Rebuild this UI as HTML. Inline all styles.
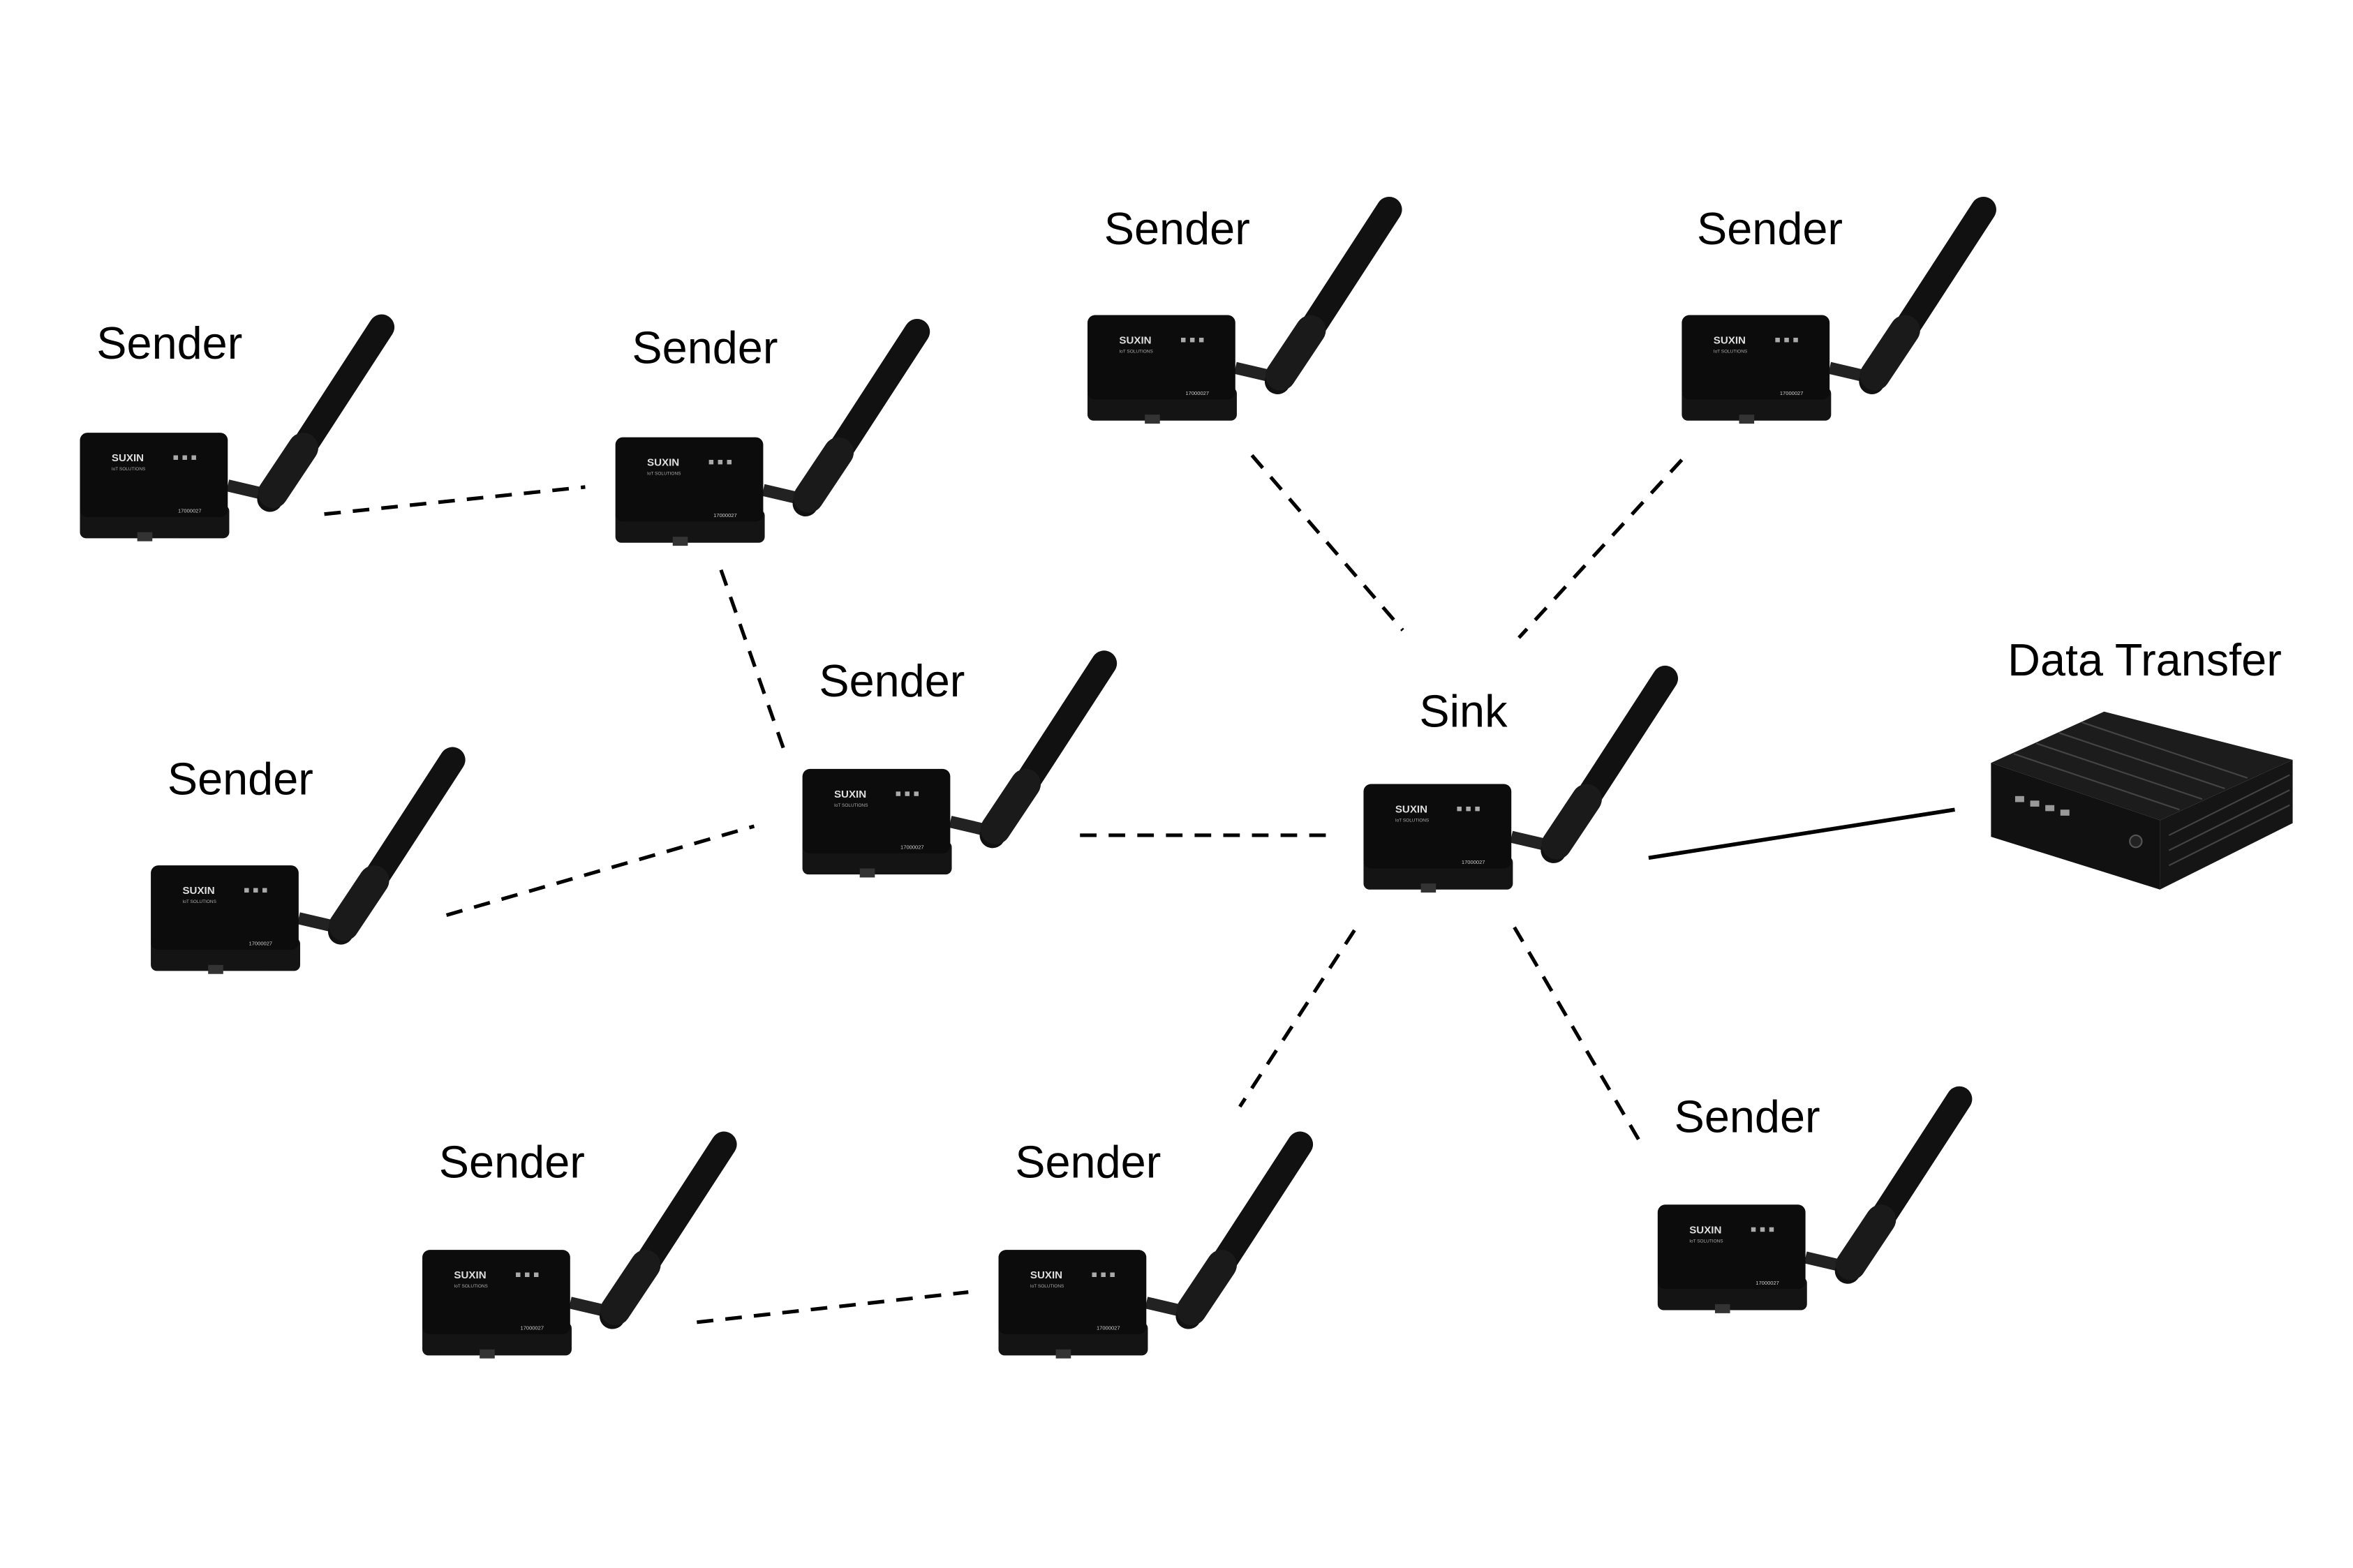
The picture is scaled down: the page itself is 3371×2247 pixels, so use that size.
<!DOCTYPE html>
<html><head><meta charset="utf-8"><style>
html,body{margin:0;padding:0;background:#fff;}
svg{display:block}
text{font-family:"Liberation Sans","DejaVu Sans",sans-serif;fill:#000}
</style></head><body>
<svg width="3371" height="2247" viewBox="0 0 1560 1040" preserveAspectRatio="none" xmlns="http://www.w3.org/2000/svg">
<defs>
<g id="dev">
  <line x1="98" y1="35" x2="128" y2="42" stroke="#222" stroke-width="8"/>
  <line x1="126" y1="44" x2="200" y2="-70" stroke="#111" stroke-width="17" stroke-linecap="round"/>
  <line x1="128" y1="40" x2="148" y2="10" stroke="#1a1a1a" stroke-width="20" stroke-linecap="round"/>
  <rect x="0" y="48" width="99" height="22" rx="4" fill="#141414"/>
  <rect x="0" y="0" width="98" height="56" rx="5" fill="#0c0c0c"/>
  <rect x="38" y="66" width="10" height="6" fill="#333"/>
  <text x="21" y="19" font-size="7" font-weight="bold" style="fill:#ddd">SUXIN</text>
  <text x="21" y="25" font-size="3" style="fill:#aaa">IoT SOLUTIONS</text>
  <rect x="62" y="15" width="3" height="3" fill="#aaa"/><rect x="68" y="15" width="3" height="3" fill="#aaa"/><rect x="74" y="15" width="3" height="3" fill="#aaa"/>
  <text x="65" y="53" font-size="3.5" style="fill:#ccc">17000027</text>
</g>
</defs>
<g stroke="#000" stroke-width="2.4" stroke-dasharray="11,8" fill="none">
  <line x1="215" y1="341" x2="388" y2="323"/>
  <line x1="478" y1="378" x2="520" y2="498"/>
  <line x1="296" y1="607" x2="500" y2="548"/>
  <line x1="716" y1="554" x2="880" y2="554"/>
  <line x1="830" y1="302" x2="930" y2="418"/>
  <line x1="1115" y1="305" x2="1007" y2="423"/>
  <line x1="898" y1="617" x2="822" y2="734"/>
  <line x1="1004" y1="615" x2="1090" y2="762"/>
  <line x1="462" y1="877" x2="642" y2="857"/>
</g>
<line x1="1093" y1="569" x2="1296" y2="537" stroke="#000" stroke-width="2.6"/>
<use href="#dev" x="53" y="287"/>
<use href="#dev" x="408" y="290"/>
<use href="#dev" x="721" y="209"/>
<use href="#dev" x="1115" y="209"/>
<use href="#dev" x="100" y="574"/>
<use href="#dev" x="532" y="510"/>
<use href="#dev" x="904" y="520"/>
<use href="#dev" x="280" y="829"/>
<use href="#dev" x="662" y="829"/>
<use href="#dev" x="1099" y="799"/>
<g font-size="30">
<text x="64" y="238">Sender</text>
<text x="419" y="241">Sender</text>
<text x="732" y="162">Sender</text>
<text x="1125" y="162">Sender</text>
<text x="111" y="527">Sender</text>
<text x="543" y="462">Sender</text>
<text x="941" y="482">Sink</text>
<text x="291" y="781">Sender</text>
<text x="673" y="781">Sender</text>
<text x="1110" y="751">Sender</text>
<text x="1331" y="448">Data Transfer</text>
</g>
<g>
  <polygon points="1320,506 1395,472 1520,504 1432,544" fill="#1c1c1c"/>
  <polygon points="1320,506 1432,544 1432,590 1320,555" fill="#111"/>
  <polygon points="1432,544 1520,504 1520,546 1432,590" fill="#151515"/>
  <g stroke="#444" stroke-width="1">
    <line x1="1335" y1="500" x2="1445" y2="537"/><line x1="1350" y1="493" x2="1460" y2="530"/>
    <line x1="1365" y1="486" x2="1475" y2="523"/><line x1="1380" y1="479" x2="1490" y2="516"/>
    <line x1="1438" y1="554" x2="1518" y2="514"/><line x1="1438" y1="564" x2="1518" y2="524"/>
    <line x1="1438" y1="574" x2="1518" y2="534"/>
  </g>
  <rect x="1336" y="528" width="6" height="4" fill="#999"/><rect x="1346" y="531" width="6" height="4" fill="#999"/>
  <rect x="1356" y="534" width="6" height="4" fill="#999"/><rect x="1366" y="537" width="6" height="4" fill="#999"/>
  <circle cx="1416" cy="558" r="4" fill="#222" stroke="#555"/>
</g>
</svg>
</body></html>
